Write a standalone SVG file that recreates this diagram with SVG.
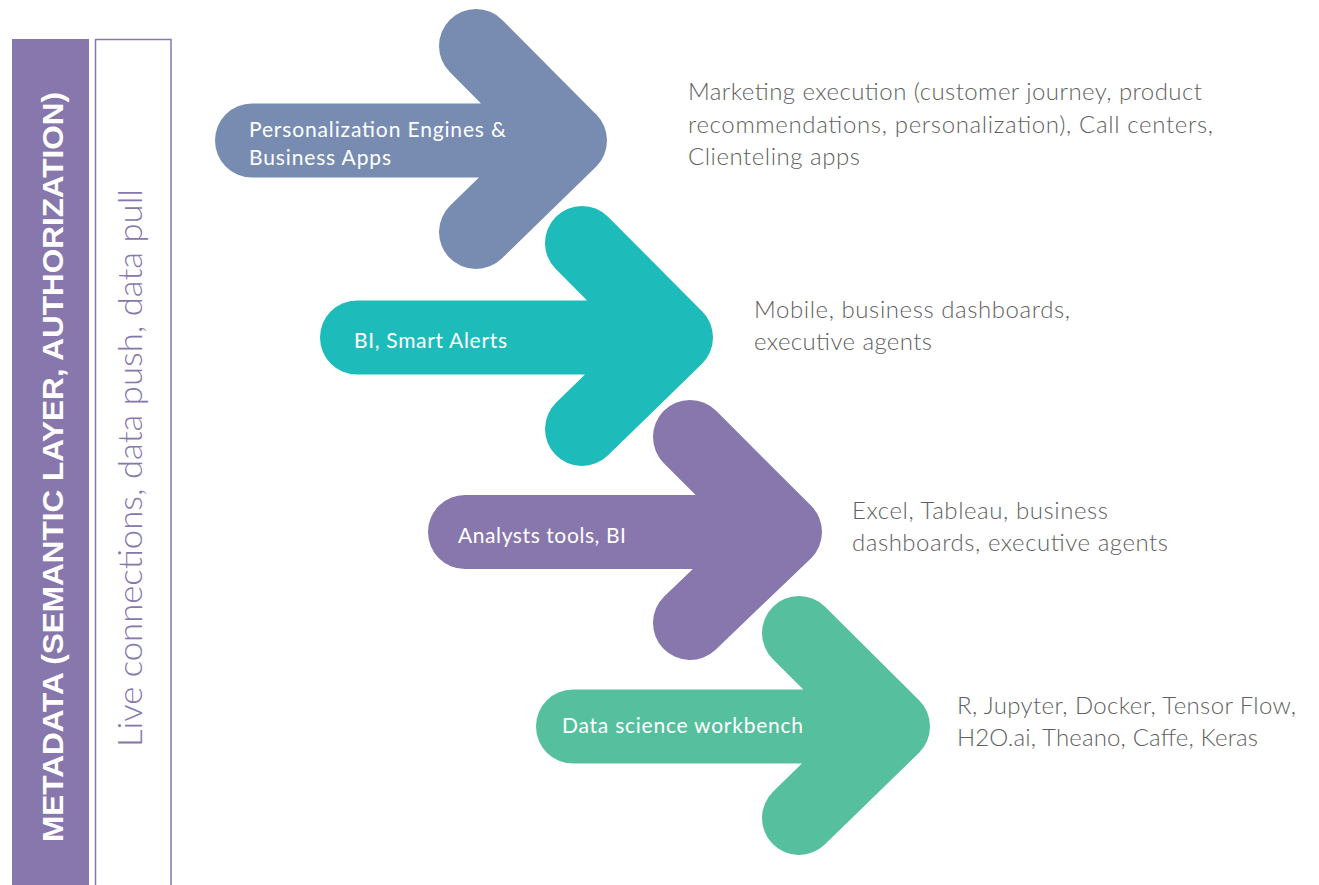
<svg xmlns="http://www.w3.org/2000/svg" width="1319" height="885" viewBox="0 0 1319 885">
<style>
.arrow{fill:none;stroke-width:74;stroke-linecap:round;stroke-linejoin:round}
.lbl{font-family:Lato,"Liberation Sans",sans-serif;font-size:21px;fill:#ffffff}
.desc{font-family:Lato,"Liberation Sans",sans-serif;font-size:24px;font-weight:300;fill:#5f5f5f}
</style>
<rect width="1319" height="885" fill="#ffffff"/>
<g id="metadata-bar">
<rect x="12" y="39" width="77" height="850" fill="#8877ad"/>
<text transform="rotate(-90 63 467)" x="63" y="467" text-anchor="middle" textLength="750" lengthAdjust="spacingAndGlyphs" font-family="Liberation Sans, sans-serif" font-weight="bold" font-size="29" fill="#ffffff">METADATA (SEMANTIC LAYER, AUTHORIZATION)</text>
</g>
<g id="connections-box">
<rect x="95.5" y="39.5" width="75.5" height="850" fill="#ffffff" stroke="#8877ad" stroke-width="1.5"/>
<text transform="rotate(-90 142 468)" x="142" y="468" text-anchor="middle" textLength="558" lengthAdjust="spacingAndGlyphs" font-family="Lato, Liberation Sans, sans-serif" font-weight="300" font-size="34" fill="#8877ad">Live connections, data push, data pull</text>
</g>
<g id="arrow-personalization">
<path class="arrow" stroke="#788cb1" d="M252,140.5 L570,140.5 M476,46 L570,140.5 L476,232"/>
<text class="lbl" x="249" y="137" textLength="257">Personalization Engines &amp;</text>
<text class="lbl" x="249" y="165" textLength="142">Business Apps</text>
</g>
<g id="arrow-bi">
<path class="arrow" stroke="#1dbcba" d="M357,337.5 L676,337.5 M582,243 L676,337.5 L582,429"/>
<text class="lbl" x="354" y="348" textLength="153">BI, Smart Alerts</text>
</g>
<g id="arrow-analysts">
<path class="arrow" stroke="#8877ad" d="M465,532 L785,532 M690,437 L785,532 L690,623"/>
<text class="lbl" x="458" y="543" textLength="168">Analysts tools, BI</text>
</g>
<g id="arrow-datascience">
<path class="arrow" stroke="#56bf9e" d="M573,726.5 L893,726.5 M799,633 L893,726.5 L799,818"/>
<text class="lbl" x="562" y="733" textLength="241">Data science workbench</text>
</g>
<g id="connectors"></g>
<g id="desc-1">
<text class="desc" x="688" y="100" textLength="514">Marketing execution (customer journey, product</text>
<text class="desc" x="688" y="133" textLength="525">recommendations, personalization), Call centers,</text>
<text class="desc" x="688" y="165" textLength="172">Clienteling apps</text>
</g>
<g id="desc-2">
<text class="desc" x="754" y="318" textLength="316">Mobile, business dashboards,</text>
<text class="desc" x="754" y="350" textLength="178">executive agents</text>
</g>
<g id="desc-3">
<text class="desc" x="852" y="519" textLength="256">Excel, Tableau, business</text>
<text class="desc" x="852" y="551" textLength="316">dashboards, executive agents</text>
</g>
<g id="desc-4">
<text class="desc" x="957" y="714" textLength="339">R, Jupyter, Docker, Tensor Flow,</text>
<text class="desc" x="957" y="746" textLength="301">H2O.ai, Theano, Caffe, Keras</text>
</g>
</svg>
